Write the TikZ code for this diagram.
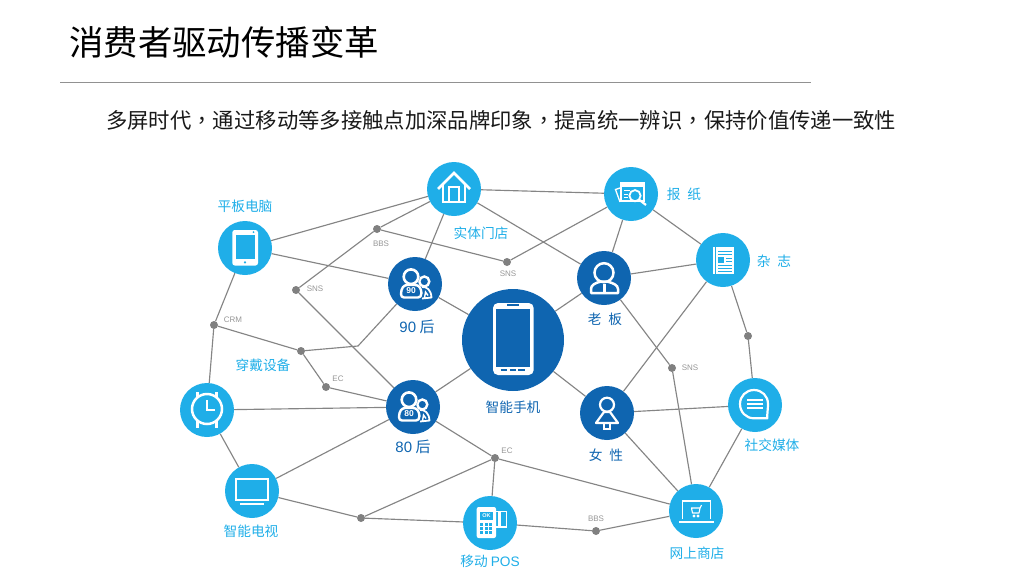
\documentclass[tikz,border=0pt]{standalone}
\usepackage{fontspec}
\setmainfont{Liberation Sans}
\newfontfamily\cjk{Noto Sans CJK SC}
\newfontfamily\cjktc{Noto Sans CJK TC}
\usetikzlibrary{backgrounds}
\definecolor{lblue}{HTML}{1FAEE8}
\definecolor{dblue}{HTML}{0F65B0}
\definecolor{lnk}{HTML}{858585}
\definecolor{dotc}{HTML}{808080}
\definecolor{smalltxt}{HTML}{969696}
\tikzset{
  x=1pt,y=-1pt,
  hubl/.style={circle,fill=lblue,inner sep=0pt,minimum size=54pt},
  hubd/.style={circle,fill=dblue,inner sep=0pt,minimum size=54pt},
  hubbig/.style={circle,fill=dblue,inner sep=0pt,minimum size=102pt},
  junction/.style={circle,fill=dotc,inner sep=0pt,minimum size=8pt},
  link/.style={draw=lnk,line width=1.15pt},
  labl/.style={text=lblue,font=\fontsize{13.7}{15}\selectfont\cjk,inner sep=0pt},
  labd/.style={text=dblue,font=\fontsize{13.7}{15}\selectfont\cjk,inner sep=0pt},
  tiny/.style={text=smalltxt,font=\fontsize{8}{9}\selectfont,inner sep=0pt},
  wl/.style={draw=white,line width=#1,fill=none},
  wl/.default=2pt,
}
\newcommand{\peopleicon}[3]{%
  \begin{scope}[shift={(#1,#2)}]
    \draw[wl=2.4pt] (9.3,-2.5) circle[radius=5pt];
    \draw[wl=1.8pt,line join=round] (7,3) .. controls (12,2.5) and (16,6) .. (16.5,13.5) -- (7,14.5);
    \draw[wl=1.4pt] (9.5,14) -- (10.5,8) -- (13,11.5);
    \fill[dblue] (-4,-7.3) circle[radius=8.8pt];
    \draw[wl=2.6pt] (-4,-7.3) circle[radius=7.3pt];
    \draw[wl=2.4pt,line join=round,fill=dblue] (-14,10) .. controls (-14,4) and (-11,1) .. (-8,1)
       -- (0,1) .. controls (4,1) and (6,4) .. (6.5,9) .. controls (6.5,12) and (5,13.5) .. (3,13.5) -- (-11,13.5)
       .. controls (-13,13.5) and (-14,12) .. (-14,10) -- cycle;
    \node[text=white,font=\bfseries\fontsize{8.5}{8.5}\selectfont,inner sep=0pt] (#3) at (-4,7) {#3};
  \end{scope}}
\begin{document}
\begin{tikzpicture}[line cap=butt]
\useasboundingbox (0,0) rectangle (1024,576);

% title
\node[anchor=west,inner sep=0pt,font=\fontsize{34.4}{36}\selectfont\cjk,text=black] (title) at (69,42) {消费者驱动传播变革};
\coordinate (ruleL) at (60,82);
\coordinate (ruleR) at (811,82);
\draw[draw=lnk!90,line width=0.7pt] (ruleL) -- (ruleR);
\node[anchor=west,inner sep=0pt,font=\fontsize{21.35}{24}\selectfont\cjk,text=black!90] (sub) at (106,120) {多屏时代{\cjktc ，}通过移动等多接触点加深品牌印象{\cjktc ，}提高统一辨识{\cjktc ，}保持价值传递一致性};

% hubs
\node[hubl] (house) at (454,189) {};
\node[hubl] (tablet) at (245,248) {};
\node[hubd] (p90) at (415,284) {};
\node[hubbig] (phone) at (513,340) {};
\node[hubd] (boss) at (604,278) {};
\node[hubl] (news) at (631,194) {};
\node[hubl] (mag) at (723,260) {};
\node[hubl] (watch) at (207,410) {};
\node[hubd] (p80) at (413,407) {};
\node[hubl] (tv) at (252,491) {};
\node[hubl] (pos) at (490,523) {};
\node[hubd] (woman) at (607,413) {};
\node[hubl] (social) at (755,405) {};
\node[hubl] (shop) at (696,511) {};

% junctions
\node[junction] (jBBS) at (377,229) {};
\node[junction] (jSNSl) at (296,290) {};
\node[junction] (jCRM) at (214,325) {};
\node[junction] (jwear) at (301,351) {};
\node[junction] (jECl) at (326,387) {};
\node[junction] (jSNSt) at (507,262) {};
\node[junction] (jR) at (748,336) {};
\node[junction] (jSNSr) at (672,368) {};
\node[junction] (jECc) at (495,458) {};
\node[junction] (jBL) at (361,518) {};
\node[junction] (jBBSb) at (596,531) {};
\coordinate (bend) at (358,346);

% connectors
\begin{scope}[on background layer]
\foreach \a/\b in {tablet/house,house/jBBS,jBBS/jSNSl,jBBS/jSNSt,jSNSt/news,house/p90,house/boss,house/news,
  tablet/p90,tablet/jCRM,jCRM/watch,jCRM/jwear,jwear/jECl,p90/phone,jSNSl/p80,jECl/p80,watch/p80,watch/tv,
  tv/p80,tv/jBL,jBL/jECc,jBL/pos,pos/jECc,p80/phone,p80/jECc,jECc/shop,pos/jBBSb,jBBSb/shop,phone/boss,phone/woman,
  boss/news,boss/mag,news/mag,boss/jSNSr,mag/woman,mag/jR,jR/social,jSNSr/shop,woman/social,woman/shop,social/shop}
  {\draw[link] (\a) -- (\b);}
\draw[link] (jwear) -- (bend) -- (p90);
\end{scope}

% icons ----------------------------------------------------
% house
\begin{scope}[shift={(house.center)}]
  \draw[wl=2.5pt,line join=miter] (-16,0) -- (0,-16) -- (16,0);
  \draw[wl=2pt] (-10.7,-4) -- (-10.7,13) -- (11,13) -- (11,-4);
  \draw[wl=2pt] (-4.7,13) -- (-4.7,-2.5) -- (4.7,-2.5) -- (4.7,13);
\end{scope}
% tablet
\begin{scope}[shift={(tablet.center)}]
  \fill[white,rounded corners=2.5pt] (-12.7,-18) rectangle (13,17.5);
  \fill[lblue] (-9.5,-13.5) rectangle (10,11);
  \fill[lblue] (8.5,-16) circle[radius=1pt];
  \fill[lblue] (0,14.3) circle[radius=1.2pt];
\end{scope}
% people
\peopleicon{415}{284}{90}
\peopleicon{413}{407}{80}
% phone
\begin{scope}[shift={(phone.center)}]
  \fill[white,rounded corners=5pt] (-20,-37) rectangle (20.7,35);
  \fill[dblue] (-16.7,-31) rectangle (17,26.7);
  \draw[dblue,line width=1.2pt] (-5.7,-35) -- (5.7,-35);
  \draw[dblue,line width=1.2pt] (-12.3,30) -- (-5.7,30) (-3,30) -- (3,30) (5.3,30) -- (12,30);
\end{scope}
% boss
\begin{scope}[shift={(boss.center)}]
  \draw[wl=2.5pt] (0,-5.3) circle[radius=9.5pt];
  \draw[wl=2.5pt,line join=round] (-13,15) -- (-13,11) .. controls (-13,7) and (-9,5) .. (-3,3.5)
     -- (3,3.5) .. controls (9,5) and (14,7) .. (14,11) -- (14,15) -- cycle;
  \fill[white] (-1.5,6) rectangle (1.5,15);
\end{scope}
% newspaper
\begin{scope}[shift={(news.center)}]
  \fill[white] (-11,-11.7) rectangle (14,7.7);
  \fill[lblue] (-9,-7) rectangle (12,6);
  \draw[white,line width=1pt] (-7,-3.5) -- (-1,-3.5) (-7,0) -- (-3,0) (-7,3.5) -- (-3,3.5);
  \draw[wl=1.3pt] (-11,-6) -- (-15.5,-4.5) -- (-11,8);
  \draw[wl=1.8pt,fill=lblue] (4,1.7) circle[radius=5.6pt];
  \draw[white,line width=2.2pt] (8.5,6) -- (15,11);
\end{scope}
% magazine
\begin{scope}[shift={(mag.center)}]
  \fill[white] (-10,-13) rectangle (11,14);
  \draw[lblue,line width=1pt] (-7.3,-13) -- (-7.3,14);
  \draw[lblue,line width=1pt] (-5,-9) -- (9,-9) (-5,-6) -- (9,-6) (-5,5) -- (9,5) (-5,8) -- (9,8) (-5,11) -- (9,11);
  \fill[lblue] (-5,-3.5) rectangle (1,2.5);
  \draw[lblue,line width=1pt] (3,-2) -- (9,-2) (3,1) -- (9,1);
\end{scope}
% watch
\begin{scope}[shift={(watch.center)}]
  \draw[wl=2.5pt] (0,-1) circle[radius=15pt];
  \draw[wl=2.5pt] (-9.5,-18) -- (-9.5,-13) (9.5,-18) -- (9.5,-13) (-9.5,11) -- (-9.5,18) (9.5,11) -- (9.5,18);
  \draw[wl=1.8pt] (0,-10) -- (0,0) -- (8,0);
\end{scope}
% tv
\begin{scope}[shift={(tv.center)}]
  \draw[wl=2pt] (-16,-12.3) rectangle (15.7,9.3);
  \draw[wl=2pt] (-11.7,13.3) -- (11.7,13.3);
\end{scope}
% pos
\begin{scope}[shift={(pos.center)}]
  \fill[white,rounded corners=2pt] (-13.3,-16) rectangle (6,15);
  \fill[lblue] (-10,-11) rectangle (2.7,-3.3);
  \node[text=white,font=\bfseries\fontsize{5.5}{5}\selectfont,inner sep=0pt] (okl) at (-3.6,-7.2) {OK};
  \foreach \cx in {-10,-5.5,-1} \foreach \cy in {0,4.2,8.4} \fill[lblue] (\cx,\cy) rectangle ++(3.4,3);
  \draw[wl=1.1pt] (6,-11.5) -- (16.7,-11.5) -- (16.7,4) -- (6,4);
  \fill[white] (8,-11) rectangle (11,4);
\end{scope}
% woman
\begin{scope}[shift={(woman.center)}]
  \draw[wl=2.2pt] (0,-8.3) circle[radius=7pt];
  \draw[wl=2.2pt,line join=round] (-11,10) -- (-3,-1) -- (3,-1) -- (11,10) -- cycle;
  \draw[wl=2pt] (-3.5,10) -- (-3.5,16) -- (3,16) -- (3,10);
\end{scope}
% social
\begin{scope}[shift={(social.center)}]
  \draw[wl=2.2pt,line join=round] (12.3,13.3) -- (-1,13.3) .. controls (-9,13.3) and (-15,7) .. (-15,-1)
     .. controls (-15,-9) and (-9,-15) .. (-1,-15) .. controls (7,-15) and (13,-9) .. (13,-1)
     .. controls (13,4) and (12,9) .. (12.3,13.3) -- cycle;
  \draw[white,line width=1.4pt] (-8,-5) -- (8,-5) (-8,-1) -- (8,-1) (-8,3) -- (8,3);
\end{scope}
% shop
\begin{scope}[shift={(shop.center)}]
  \draw[wl=1.5pt] (-13.3,8.3) -- (-13.3,-10) -- (14.7,-10) -- (14.7,8.3);
  \draw[wl=1.8pt] (-16.7,10.7) -- (18,10.7);
  \draw[wl=1.1pt,line join=round] (-5,-3) -- (4,-3) -- (3,2) -- (-3.5,2) -- (-4.5,-3);
  \draw[wl=1.1pt] (4,-3) -- (5.5,-6);
  \draw[wl=0.9pt] (-2,5) circle[radius=0.9pt] (2,5) circle[radius=0.9pt];
\end{scope}

% labels
\node[labl] (lTablet) at (245,206) {平板电脑};
\node[labl] (lHouse) at (481,233) {实体门店};
\node[labd] (l90) at (417,327) {\fontsize{15}{15}\selectfont{\rmfamily 90} 后};
\node[labl] (lWear) at (263,365) {穿戴设备};
\node[labd] (lPhone) at (513,407) {智能手机};
\node[labd] (lBoss) at (605,319) {老\,\,\,板};
\node[labl] (lNews) at (684,194) {报\,\,\,纸};
\node[labl] (lMag) at (774,261) {杂\,\,\,志};
\node[labd] (lWoman) at (606,455) {女\,\,\,性};
\node[labl] (lSocial) at (772,445) {社交媒体};
\node[labl] (lShop) at (697,553) {网上商店};
\node[labl] (lTV) at (251,531) {智能电视};
\node[labl] (lPos) at (490,561) {移动 {\rmfamily POS}};
\node[labd] (l80) at (413,447) {\fontsize{15}{15}\selectfont{\rmfamily 80} 后};

\node[tiny] (tBBS) at (381,244) {BBS};
\node[tiny] (tSNSl) at (315,289) {SNS};
\node[tiny] (tCRM) at (233,320) {CRM};
\node[tiny] (tECl) at (338,379) {EC};
\node[tiny] (tSNSt) at (508,274) {SNS};
\node[tiny] (tSNSr) at (690,368) {SNS};
\node[tiny] (tECc) at (507,451) {EC};
\node[tiny] (tBBSb) at (596,519) {BBS};
\end{tikzpicture}
\end{document}
